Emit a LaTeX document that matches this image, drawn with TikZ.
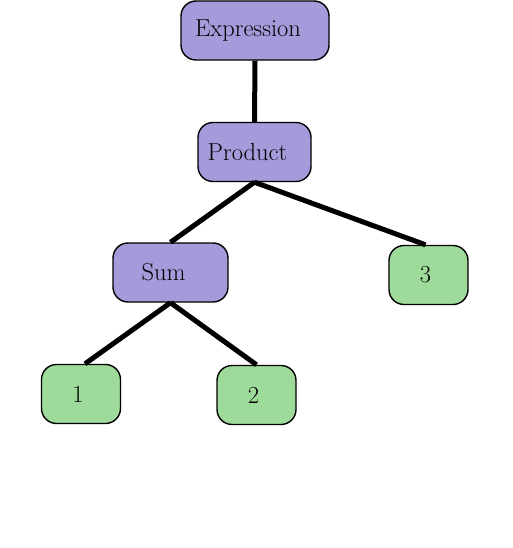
\documentclass[tikz,border=0pt]{standalone}
\usepackage{fontspec}
\usepackage{tikz}
\usetikzlibrary{positioning}
\definecolor{opfill}{RGB}{165,155,219}
\definecolor{numfill}{RGB}{158,219,154}

\begin{document}
\begin{tikzpicture}[x=1pt, y=-1pt,
  nd/.style={draw, line width=1.4pt, rounded corners=15pt, minimum height=59pt, inner sep=0pt, font=\fontsize{24.5}{28}\selectfont},
  opnd/.style={nd, fill=opfill, execute at end node=\hspace*{14pt}},
  numnd/.style={nd, fill=numfill, minimum width=79pt, execute at end node=\hspace*{6pt}},
  edge/.style={line width=5pt}
]
\useasboundingbox (0,0) rectangle (512,548);
\node[opnd, minimum width=148pt] (expr) at (255,30.5)  {Expression};
\node[opnd, minimum width=113pt] (prod) at (254.5,152) {Product};
\node[opnd, minimum width=115pt] (sum)  at (170.5,272.5) {Sum};
\node[numnd] (three) at (428.5,275) {3};
\node[numnd] (one)   at (81,394)    {1};
\node[numnd] (two)   at (256.5,395) {2};
\draw[edge] (expr.south) -- (prod.north);
\draw[edge] (prod.south) -- (sum.north);
\draw[edge] (prod.south) -- ([xshift=-3pt]three.north);
\draw[edge] (sum.south) -- ([xshift=4pt]one.north);
\draw[edge] (sum.south) -- (two.north);
\end{tikzpicture}
\end{document}
